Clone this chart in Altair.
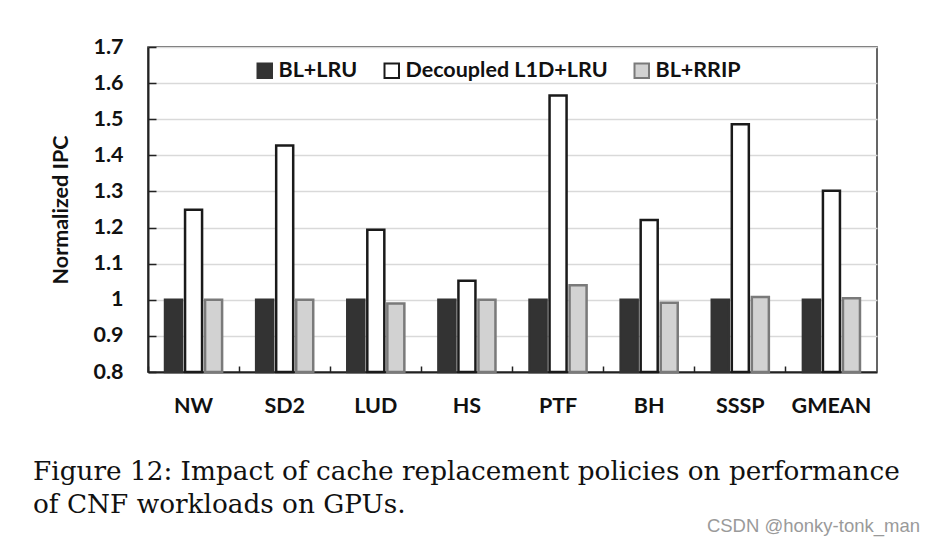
import altair as alt
import pandas as pd

categories = ["NW", "SD2", "LUD", "HS", "PTF", "BH", "SSSP", "GMEAN"]
series = ["BL+LRU", "Decoupled L1D+LRU", "BL+RRIP"]
bl_lru = [1.0, 1.0, 1.0, 1.0, 1.0, 1.0, 1.0, 1.0]
decoupled = [1.249, 1.427, 1.194, 1.053, 1.566, 1.221, 1.486, 1.302]
bl_rrip = [1.0, 1.0, 0.99, 1.0, 1.04, 0.992, 1.008, 1.004]
y_ticks = [0.8, 0.9, 1.0, 1.1, 1.2, 1.3, 1.4, 1.5, 1.6, 1.7]
caption = "Figure 12: Impact of cache replacement policies on performance\nof CNF workloads on GPUs."
watermark = "CSDN @honky-tonk_man"

rows = []
for i, c in enumerate(categories):
    for s, vals in zip(series, [bl_lru, decoupled, bl_rrip]):
        rows.append({"cat": c, "series": s, "value": vals[i]})
df = pd.DataFrame(rows)

W, H = 729, 325
font = "Lato"
fs = 21.5

fill_scale = alt.Scale(domain=series, range=["#333333", "#ffffff", "#d2d2d2"])
stroke_scale = alt.Scale(domain=series, range=["#333333", "#1a1a1a", "#7a7a7a"])

bars = alt.Chart(df).mark_bar(strokeWidth=2.5).encode(
    x=alt.X("cat:N", sort=categories, title=None,
            scale=alt.Scale(paddingInner=0, paddingOuter=0),
            axis=alt.Axis(bandPosition=0, labelAngle=0,
                          labelFont=font, labelFontWeight="bold", labelFontSize=fs,
                          labelColor="#111111", labelPadding=29,
                          tickSize={"expr": "-6"}, tickColor="#222222", tickWidth=1.5,
                          domainColor="#222222", domainWidth=2, grid=False)),
    xOffset=alt.XOffset("series:N", sort=series,
                        scale=alt.Scale(domain=series, paddingInner=0.15, paddingOuter=0.85)),
    y=alt.Y("value:Q", title="Normalized IPC",
            scale=alt.Scale(domain=[0.8, 1.7], zero=False, nice=False),
            axis=alt.Axis(values=y_ticks, format="~g", labelFont=font, labelFontWeight="bold",
                          labelFontSize=fs, labelColor="#111111", labelPadding=33,
                          tickSize={"expr": "-8"}, tickColor="#222222", tickWidth=1.5,
                          domainColor="#222222", domainWidth=2,
                          gridColor="#d9d9d9", gridWidth=1.5,
                          titleFont=font, titleFontSize=fs, titleFontWeight="bold",
                          titleColor="#111111", titlePadding=20)),
    y2=alt.datum(0.8),
    fill=alt.Fill("series:N", scale=fill_scale, sort=series, title=None,
                  legend=alt.Legend(orient="none", legendX=106, legendY=13,
                                    direction="horizontal", symbolType="square",
                                    symbolSize=210, symbolStrokeWidth=2,
                                    labelFont=font, labelFontWeight="bold", labelFontSize=fs,
                                    labelColor="#111111", labelOffset=3, columnPadding=22,
                                    labelLimit=400, title=None)),
    stroke=alt.Stroke("series:N", scale=stroke_scale, sort=series, title=None,
                      legend=None),
)

cap = alt.Chart(pd.DataFrame({"t": [caption]})).mark_text(
    align="left", baseline="middle", font="DejaVu Serif", fontSize=26.3,
    lineBreak="\n", lineHeight=33, color="#111111"
).encode(text="t:N", x=alt.value(-115), y=alt.value(425))

wm = alt.Chart(pd.DataFrame({"t": [watermark]})).mark_text(
    align="right", baseline="middle", font="Liberation Sans", fontSize=18.5, color="#9a9a9a"
).encode(text="t:N", x=alt.value(772), y=alt.value(479))

chart = alt.layer(bars, cap, wm).properties(
    width=W, height=H,
    autosize=alt.AutoSizeParams(type="none"),
    padding={"left": 140, "top": 39, "right": 50, "bottom": 170},
    background="white",
).configure_view(stroke="#333333", strokeWidth=1.5)

chart.save("out.html", embed_options={"renderer": "svg", "actions": False})
